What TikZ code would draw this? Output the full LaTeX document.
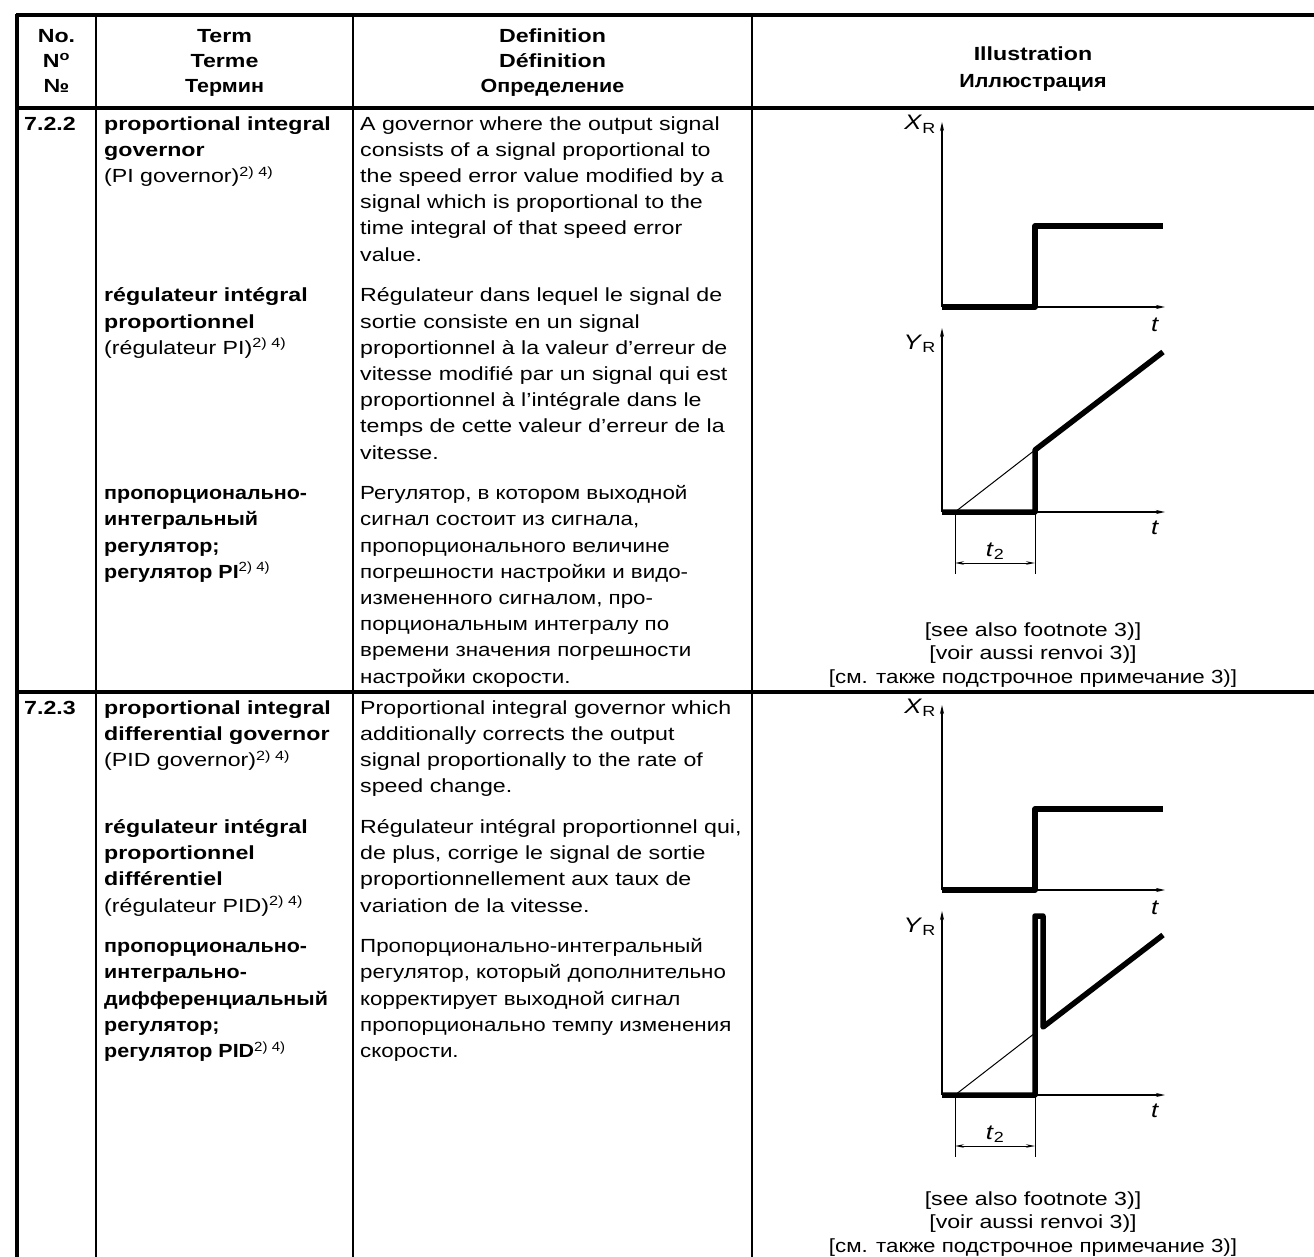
\documentclass[tikz,border=0pt]{standalone}
\usepackage{fontspec}
\setmainfont{Liberation Sans}[FakeStretch=1.22]
\newfontfamily\rufont{Liberation Sans}[FakeStretch=1.175]
\newfontfamily\rubfont{Liberation Sans}[FakeStretch=1.13]
\usetikzlibrary{arrows.meta}

\newcommand{\bodysize}{\fontsize{19}{26.2}\selectfont}
\newcommand{\fnr}{\textsuperscript{\mdseries 2) 4)}}
\newcommand{\tstrut}{\rule{0pt}{18pt}}

\tikzset{
  rulethick/.style={line width=3.5pt},
  rulethin/.style={line width=2pt},
  blk/.style={anchor=north west, inner sep=0pt, align=left, yshift=18pt, font=\bodysize},
  headblk/.style={anchor=north, inner sep=0pt, align=center, yshift=18pt, font=\fontsize{19}{25}\selectfont\bfseries},
  captblk/.style={anchor=north, inner sep=0pt, align=center, yshift=18pt, font=\fontsize{19}{23.5}\selectfont},
  axis/.style={line width=1.6pt, -{Stealth[length=9pt,width=4pt]}},
  signal/.style={line width=5.5pt, line join=round},
  aux/.style={line width=1pt},
  dimline/.style={line width=1pt, {Stealth[length=9pt,width=3.5pt]}-{Stealth[length=9pt,width=3.5pt]}},
  lbl/.style={inner sep=0pt, font=\fontsize{21}{24}\selectfont}
}

\begin{document}
\begin{tikzpicture}[x=1pt, y=-1pt]
  \useasboundingbox (0,0) rectangle (1314,1257);

  % table rules
  \draw[rulethick] (16,15) -- (1314,15);
  \draw[rulethick] (16,108) -- (1314,108);
  \draw[rulethick] (16,692) -- (1314,692);
  \draw[rulethick] (17,14) -- (17,1257);
  \foreach \cx in {96,353,752}
    \draw[rulethin] (\cx,15) -- (\cx,1257);

  % header
  \node[headblk] (hno) at (56.5,42) {\tstrut No.\\N\textsuperscript{o}\\№};
  \node[headblk] (hterm) at (224.5,42) {\tstrut Term\\Terme\\{\rubfont Термин}};
  \node[headblk] (hdef) at (552.5,42) {\tstrut Definition\\Définition\\{\rubfont Определение}};
  \node[headblk, font=\fontsize{19}{27}\selectfont\bfseries] (hill) at (1033,60) {\tstrut Illustration\\{\rubfont Иллюстрация}};

  % 7.2.2
  \node[blk, font=\bodysize\bfseries] (num1) at (24,130) {\tstrut 7.2.2};
  \node[blk] (tE1) at (104,130) {\tstrut\textbf{proportional integral}\\\textbf{governor}\\(PI governor)\fnr};
  \node[blk] (tF1) at (104,301.6) {\tstrut\textbf{régulateur intégral}\\\textbf{proportionnel}\\(régulateur PI)\fnr};
  \node[blk, font=\bodysize\rubfont\bfseries] (tR1) at (104,499.4) {\tstrut пропорционально-\\интегральный\\регулятор;\\регулятор PI\fnr};
  \node[blk] (dE1) at (360,130) {\tstrut A governor where the output signal\\consists of a signal proportional to\\the speed error value modified by a\\signal which is proportional to the\\time integral of that speed error\\value.};
  \node[blk] (dF1) at (360,301.6) {\tstrut Régulateur dans lequel le signal de\\sortie consiste en un signal\\proportionnel à la valeur d'erreur de\\vitesse modifié par un signal qui est\\proportionnel à l'intégrale dans le\\temps de cette valeur d'erreur de la\\vitesse.};
  \node[blk, font=\bodysize\rufont] (dR1) at (360,499.4) {\tstrut Регулятор, в котором выходной\\сигнал состоит из сигнала,\\пропорционального величине\\погрешности настройки и видо-\\измененного сигналом, про-\\порциональным интегралу по\\времени значения погрешности\\настройки скорости.};
  \node[captblk] (cap1) at (1033,636) {\tstrut{[}see also footnote 3)]\\{[}voir aussi renvoi 3)]\\{\rufont{[}см. также подстрочное примечание 3)]}};

  % 7.2.3
  \node[blk, font=\bodysize\bfseries] (num2) at (24,714) {\tstrut 7.2.3};
  \node[blk] (tE2) at (104,714) {\tstrut\textbf{proportional integral}\\\textbf{differential governor}\\(PID governor)\fnr};
  \node[blk] (tF2) at (104,833.2) {\tstrut\textbf{régulateur intégral}\\\textbf{proportionnel}\\\textbf{différentiel}\\(régulateur PID)\fnr};
  \node[blk, font=\bodysize\rubfont\bfseries] (tR2) at (104,952.4) {\tstrut пропорционально-\\интегрально-\\дифференциальный\\регулятор;\\регулятор PID\fnr};
  \node[blk] (dE2) at (360,714) {\tstrut Proportional integral governor which\\additionally corrects the output\\signal proportionally to the rate of\\speed change.};
  \node[blk] (dF2) at (360,833.2) {\tstrut Régulateur intégral proportionnel qui,\\de plus, corrige le signal de sortie\\proportionnellement aux taux de\\variation de la vitesse.};
  \node[blk, font=\bodysize\rufont] (dR2) at (360,952.4) {\tstrut Пропорционально-интегральный\\регулятор, который дополнительно\\корректирует выходной сигнал\\пропорционально темпу изменения\\скорости.};
  \node[captblk] (cap2) at (1033,1205) {\tstrut{[}see also footnote 3)]\\{[}voir aussi renvoi 3)]\\{\rufont{[}см. также подстрочное примечание 3)]}};

  % step response plots, one pair per row
  \foreach \dy/\spk in {0/0,583/1}{
    \begin{scope}[shift={(0,\dy)}]
      % X_R
      \draw[axis] (942,307) -- (1165,307);
      \draw[axis] (942,307) -- (942,122);
      \node[lbl, anchor=base east] (xr\spk) at (936,130) {\textit{X}\textsubscript{R}};
      \node[lbl, anchor=base] (tx\spk) at (1155,331) {\textit{t}};
      \draw[signal] (942,307) -- (1035,307) -- (1035,226) -- (1163,226);
      % Y_R
      \draw[axis] (942,512) -- (1165,512);
      \draw[axis] (942,512) -- (942,328);
      \node[lbl, anchor=base east] (yr\spk) at (936,349) {\textit{Y}\textsubscript{R}};
      \node[lbl, anchor=base] (ty\spk) at (1155,534) {\textit{t}};
      \draw[aux] (955,512) -- (1035,450);
      \ifnum\spk=0
        \draw[signal] (942,512) -- (1035,512) -- (1035,450) -- (1163,352);
      \else
        \draw[signal] (942,512) -- (1035,512) -- (1035,333) -- (1043,333) -- (1043,444) -- (1163,352);
      \fi
      % t_2
      \draw[aux] (955,512) -- (955,574) (1035,512) -- (1035,574);
      \draw[dimline] (955,563) -- (1035,563);
      \node[lbl, anchor=base] (t2\spk) at (995,556) {\textit{t}\textsubscript{2}};
    \end{scope}
  }
\end{tikzpicture}
\end{document}
